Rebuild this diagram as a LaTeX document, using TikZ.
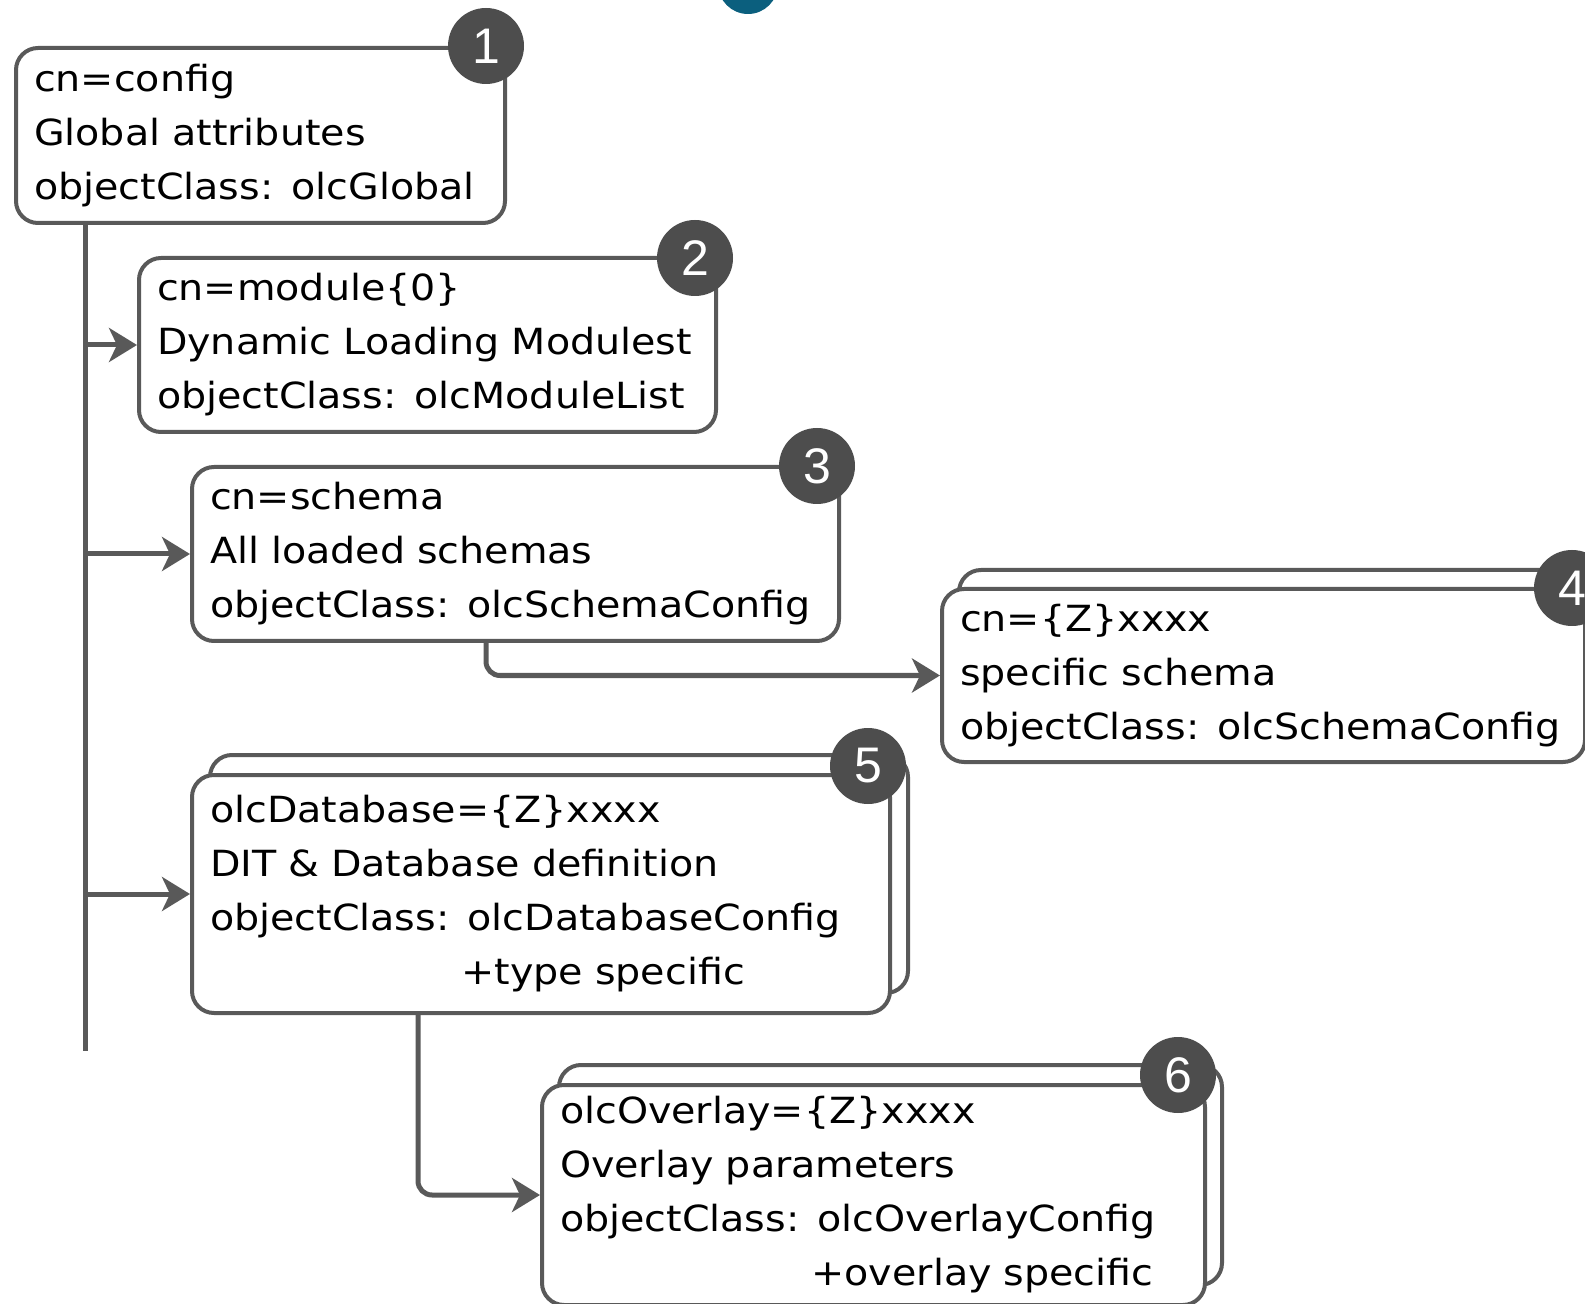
\documentclass[tikz,border=0pt]{standalone}
\usepackage{fontspec}
\setmainfont{DejaVu Sans}[FakeStretch=1.1]
\newfontfamily\badgefont{Liberation Sans}
\usetikzlibrary{calc,arrows.meta}
\definecolor{linegray}{HTML}{595959}
\definecolor{badgegray}{HTML}{4D4D4D}
\definecolor{topteal}{HTML}{0B5F7E}

\begin{document}
\begin{tikzpicture}[x=0.5pt, y=-0.5pt, >={Stealth[length=14pt, width=17pt, inset=4pt]}]
	\useasboundingbox (0,0) rectangle (1585,1304);
	\begin{scope}
		\tikzstyle{entry}=[draw=linegray, line width=2pt, rounded corners=11pt, fill=white, anchor=north west, align=left, inner xsep=9pt, inner ysep=0pt, font=\fontsize{18}{27}\selectfont]
		\tikzstyle{badge}=[circle, fill=badgegray, text=white, minimum size=38pt, inner sep=0pt, font=\badgefont\fontsize{25}{25}\selectfont]
		\tikzstyle{link}=[draw=linegray, line width=2.5pt, rounded corners=7pt]

		\node[circle, fill=topteal, minimum size=30pt, inner sep=0pt] (topmark) at (748,-16) {};

		% stacked copies behind
		\node[entry, text width=303.5pt, minimum height=86.5pt] (zschback) at (957,568) {};
		\node[entry, text width=331pt, minimum height=119pt] (dbback) at (208,753) {};
		\node[entry, text width=313.5pt, minimum height=110pt] (ovlback) at (557,1063) {};

		\node[entry, text width=226.5pt, minimum height=87.5pt] (cfg) at (14,46) {cn=config\\Global attributes\\objectClass: olcGlobal};
		\node[entry, text width=270.5pt, minimum height=87pt] (mod) at (137,256) {cn=module\{0\}\\Dynamic Loading Modulest\\objectClass: olcModuleList};
		\node[entry, text width=305.5pt, minimum height=87pt] (sch) at (190,465) {cn=schema\\All loaded schemas\\objectClass: olcSchemaConfig};
		\node[entry, text width=303.5pt, minimum height=86.5pt] (zsch) at (940,587) {cn=\{Z\}xxxx\\specific schema\\objectClass: olcSchemaConfig};
		\node[entry, text width=331pt, minimum height=119pt] (db) at (190,773) {olcDatabase=\{Z\}xxxx\\DIT \& Database definition\\objectClass: olcDatabaseConfig\\\phantom{objectClass:\ }+type specific};
		\node[entry, text width=313.5pt, minimum height=110pt] (ovl) at (540,1083) {olcOverlay=\{Z\}xxxx\\Overlay parameters\\objectClass: olcOverlayConfig\\\phantom{objectClass:\ }+overlay specific};

		\node[badge] (n1) at (486,46) {1};
		\node[badge] (n2) at (695,258) {2};
		\node[badge] (n3) at (817,466) {3};
		\node[badge] (n4) at (1572,588) {4};
		\node[badge] (n5) at (868,766) {5};
		\node[badge] (n6) at (1178,1075) {6};

		\coordinate (trunkend) at (85,1051);
		\draw [link] (cfg.south -| trunkend) to (trunkend);
		\draw [link, ->] (trunkend |- mod.west) to (mod.west);
		\draw [link, ->] (trunkend |- sch.west) to (sch.west);
		\draw [link, ->] (trunkend |- db.west) to (db.west);

		\draw [link, ->] ($(sch.south west)+(296,0)$) |- (zsch.west);
		\draw [link, ->] ($(db.south west)+(228,0)$) |- (ovl.west);
	\end{scope}
\end{tikzpicture}
\end{document}
